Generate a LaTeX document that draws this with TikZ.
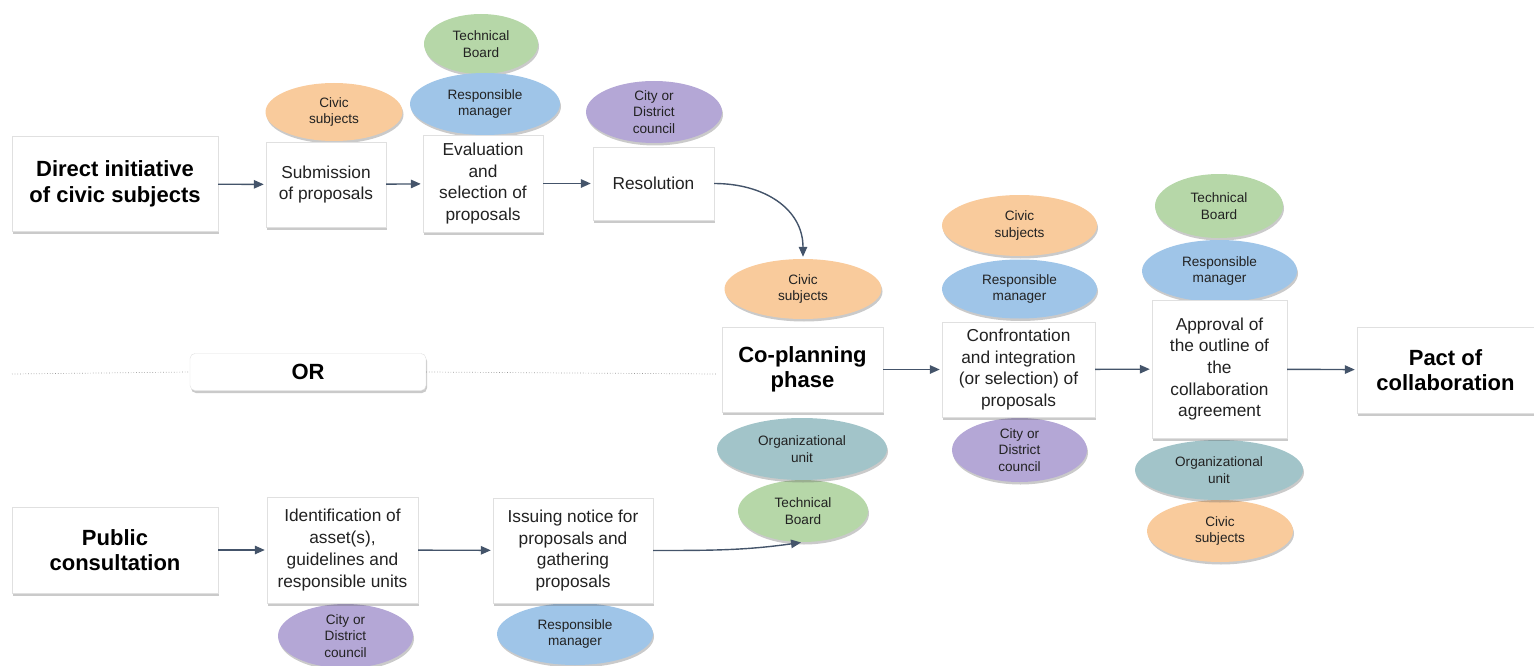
\documentclass[tikz,border=0pt]{standalone}
\usepackage{fontspec}
\setmainfont{Liberation Sans}
\usetikzlibrary{shapes.geometric,arrows.meta,shadows}
\definecolor{corange}{HTML}{F9CB9C}
\definecolor{cgreen}{HTML}{B6D7A8}
\definecolor{cblue}{HTML}{9FC5E8}
\definecolor{cpurple}{HTML}{B4A7D6}
\definecolor{cteal}{HTML}{A2C4C9}
\definecolor{cline}{HTML}{44546A}
\definecolor{ctext}{HTML}{222222}
\tikzset{
  shadowed/.style={drop shadow={shadow xshift=1pt,shadow yshift=-2.5pt,opacity=0.35,fill=black!60}},
  titlebox/.style={draw=black!12,fill=white,shadowed,align=center,inner sep=0pt,
    font=\fontsize{22}{25.5}\selectfont\bfseries,text=black},
  stepbox/.style={draw=black!12,fill=white,shadowed,align=center,inner sep=0pt,
    font=\fontsize{17.3}{21.7}\selectfont,text=ctext},
  actor/.style={ellipse,inner sep=-2pt,align=center,shadowed,
    font=\fontsize{13.6}{16.3}\selectfont,text=ctext},
  civic/.style={actor,fill=corange},
  tech/.style={actor,fill=cgreen},
  resp/.style={actor,fill=cblue},
  council/.style={actor,fill=cpurple},
  orgunit/.style={actor,fill=cteal},
  flow/.style={draw=cline,line width=1.4pt,shorten >=2pt,-{Triangle[length=10pt,width=8.5pt]}},
  orbox/.style={draw=black!12,fill=white,rounded corners=5pt,shadowed,inner sep=0pt,
    font=\fontsize{22}{24}\selectfont\bfseries},
  sep/.style={draw=black!40,dotted,line width=0.7pt}
}
\begin{document}
\begin{tikzpicture}[x=1pt,y=-1pt]
\useasboundingbox (0,0) rectangle (1534,666);
% ---------- top row ----------
\node[civic,minimum width=137pt,minimum height=58pt] (cs1) at (334,112) {Civic\\subjects};
\node[tech,minimum width=114pt,minimum height=60pt] (tb1) at (481,44) {Technical\\Board};
\node[resp,minimum width=150pt,minimum height=62pt] (rm1) at (485,104) {Responsible\\manager};
\node[council,minimum width=136pt,minimum height=62pt] (cd1) at (654,112) {City or\\District\\council};

\node[titlebox,minimum width=206pt,minimum height=95pt] (direct) at (115,184) {Direct initiative\\of civic subjects};
\node[stepbox,minimum width=120pt,minimum height=85pt] (sub) at (326,184.5) {Submission\\of proposals};
\node[stepbox,minimum width=120pt,minimum height=97pt] (eval) at (483,183.5) {Evaluation\\and\\selection of\\proposals};
\node[stepbox,minimum width=121pt,minimum height=73pt] (res) at (653.5,183.5) {Resolution};

% ---------- OR separator ----------
\coordinate (dl) at (12,374);
\coordinate (dr) at (716,374);
\node[orbox,minimum width=236pt,minimum height=37pt] (or) at (308,372) {OR};
\draw[sep] (dl) -- (or.west);
\draw[sep] (or.east) -- (dr);

% ---------- co-planning column ----------
\node[civic,minimum width=157pt,minimum height=60pt] (cs2) at (803,289) {Civic\\subjects};
\node[tech,minimum width=130pt,minimum height=62pt] (tb2) at (803,511) {Technical\\Board};
\node[orgunit,minimum width=170pt,minimum height=62pt] (ou2) at (802,449) {Organizational\\unit};
\node[titlebox,minimum width=161pt,minimum height=85pt] (cop) at (802.5,369.5) {Co-planning\\phase};

% ---------- confrontation column ----------
\node[civic,minimum width=155pt,minimum height=61pt] (cs3) at (1019.5,225.5) {Civic\\subjects};
\node[resp,minimum width=155pt,minimum height=59pt] (rm3) at (1019.5,289) {Responsible\\manager};
\node[council,minimum width=135pt,minimum height=64pt] (cd3) at (1019.5,450) {City or\\District\\council};
\node[stepbox,minimum width=153pt,minimum height=95pt] (conf) at (1018.5,369.5) {Confrontation\\and integration\\(or selection) of\\proposals};

% ---------- approval column ----------
\node[tech,minimum width=128pt,minimum height=64pt] (tb4) at (1219,206) {Technical\\Board};
\node[resp,minimum width=155pt,minimum height=62pt] (rm4) at (1219.5,271) {Responsible\\manager};
\node[civic,minimum width=146pt,minimum height=62pt] (cs4) at (1220,531) {Civic\\subjects};
\node[orgunit,minimum width=168pt,minimum height=60pt] (ou4) at (1219,470) {Organizational\\unit};
\node[stepbox,minimum width=135pt,minimum height=138pt] (appr) at (1219.5,369) {Approval of\\the outline of\\the\\collaboration\\agreement};

\node[titlebox,minimum width=177pt,minimum height=86pt] (pact) at (1445.5,370) {Pact of\\collaboration};

% ---------- bottom row ----------
\node[council,minimum width=135pt,minimum height=64pt] (cd5) at (345.5,636) {City or\\District\\council};
\node[resp,minimum width=156pt,minimum height=62pt] (rm6) at (575,634) {Responsible\\manager};
\node[titlebox,minimum width=206pt,minimum height=86pt] (pub) at (115,550) {Public\\consultation};
\node[stepbox,minimum width=151pt,minimum height=106pt] (ident) at (342.5,550) {Identification of\\asset(s),\\guidelines and\\responsible units};
\node[stepbox,minimum width=160pt,minimum height=105pt] (iss) at (573,550.5) {Issuing notice for\\proposals and\\gathering\\proposals};

% ---------- connectors ----------
\draw[flow] (direct) -- (sub);
\draw[flow] (sub) -- (eval);
\draw[flow] (eval) -- (res);
\draw[flow] (res.east) to[out=0,in=90,looseness=1.1] (cs2.north);
\draw[flow] (cop) -- (conf);
\draw[flow] (conf) -- (appr);
\draw[flow] (appr) -- (pact);
\draw[flow] (pub) -- (ident);
\draw[flow] (ident) -- (iss);
\draw[flow] (iss.east) to[out=0,in=188] (tb2.south);
\end{tikzpicture}
\end{document}
